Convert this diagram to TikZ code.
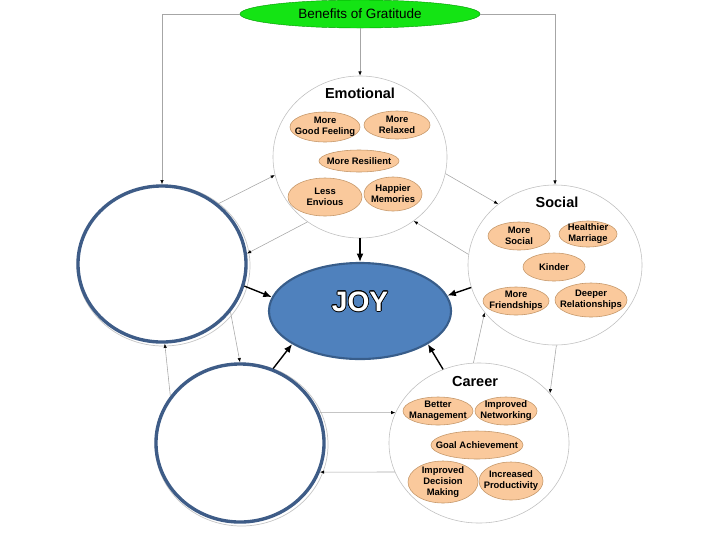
\documentclass[tikz,border=0pt]{standalone}
\usepackage{fontspec}
\setmainfont{Liberation Sans}
\usepackage{xcolor}
\usepackage{tikz}
\usepackage[copies]{contour}
\usetikzlibrary{shapes.geometric}
\usetikzlibrary{arrows.meta,calc}

\definecolor{gratgreen}{RGB}{20,228,20}
\definecolor{peach}{RGB}{250,201,156}
\definecolor{peachedge}{RGB}{196,150,104}
\definecolor{joyblue}{RGB}{79,129,189}
\definecolor{joyedge}{RGB}{56,93,138}
\definecolor{ringblue}{RGB}{62,92,135}
\contourlength{0.5pt}

\tikzset{
  area/.style 2 args={ellipse, draw=gray!50, line width=0.4pt, fill=white, inner sep=0pt,
    minimum width=#1*0.05cm, minimum height=#2*0.05cm},
  blank/.style 2 args={ellipse, draw=ringblue, line width=2.4pt, fill=white, inner sep=0pt,
    minimum width=#1*0.05cm, minimum height=#2*0.05cm},
  bub/.style 2 args={ellipse, draw=peachedge, line width=0.4pt, fill=peach, inner sep=0pt,
    minimum width=#1*0.05cm, minimum height=#2*0.05cm},
  lbl/.style={align=center, font=\bfseries\fontsize{6.7}{7.8}\selectfont, inner sep=0pt},
  areatitle/.style={font=\bfseries\fontsize{10.3}{12}\selectfont, inner sep=0pt},
  link/.style={draw=gray!70, line width=0.4pt, -{Latex[length=3pt,width=2.4pt,black]}},
  feed/.style={draw=black, line width=1pt, -{Latex[length=6pt,width=5pt]}},
}

\begin{document}
\begin{tikzpicture}[x=0.025cm, y=-0.025cm]
\useasboundingbox (0,0) rectangle (720,540);

\node[ellipse, draw=green!60!black, line width=0.3pt, fill=gratgreen, inner sep=0pt,
  minimum width=6cm, minimum height=0.7cm, font=\fontsize{9.6}{11}\selectfont] (ben) at (360,14) {Benefits of Gratitude};

\draw[gray!45, line width=0.5pt] (163.5,265.5) ellipse [x radius=86.5, y radius=80.5];
\draw[gray!45, line width=0.5pt] (241.5,444.5) ellipse [x radius=86.5, y radius=81.5];
\node[blank={84}{78}] (upp) at (162,264) {};
\node[blank={84}{79}] (low) at (240,443) {};

\node[area={87}{81}] (emo) at (360,157) {};
\node[areatitle] (emot) at (360,93) {Emotional};
\node[bub={35}{15}, label={[lbl]center:{More\\Good Feeling}}] (goodfeel) at (325,127) {};
\node[bub={33}{14}, label={[lbl]center:{More\\Relaxed}}] (relaxed) at (397,125) {};
\node[bub={40}{11}, label={[lbl]center:{More Resilient}}] (resilient) at (359,161) {};
\node[bub={37}{19}, label={[lbl]center:{Less\\Envious}}] (envious) at (325,197) {};
\node[bub={29}{17}, label={[lbl]center:{Happier\\Memories}}] (memories) at (393,194) {};

\node[area={87}{80}] (soc) at (555,265) {};
\node[areatitle] (soct) at (557,202) {Social};
\node[bub={31}{14}, label={[lbl]center:{More\\Social}}] (social) at (519,236) {};
\node[bub={29}{13}, label={[lbl]center:{Healthier\\Marriage}}] (marriage) at (588,234) {};
\node[bub={31}{14}, label={[lbl]center:{Kinder}}] (kinder) at (554,267) {};
\node[bub={33}{14}, label={[lbl]center:{More\\Friendships}}] (friends) at (516,301) {};
\node[bub={36}{17}, label={[lbl]center:{Deeper\\Relationships}}] (deeper) at (591,300) {};

\node[area={90}{80}] (car) at (479,443) {};
\node[areatitle] (cart) at (475,382) {Career};
\node[bub={35}{14}, label={[lbl]center:{Better\\Management}}] (manage) at (438,411) {};
\node[bub={31}{14}, label={[lbl]center:{Improved\\Networking}}] (network) at (506,411) {};
\node[bub={46}{14}, label={[lbl]center:{Goal Achievement}}] (goal) at (477,445) {};
\node[bub={35}{21}, label={[lbl]center:{Improved\\Decision\\Making}}] (decision) at (443,482) {};
\node[bub={32}{19}, label={[lbl]center:{Increased\\Productivity}}] (product) at (511,481) {};

\node[ellipse, draw=joyedge, line width=1.5pt, fill=joyblue, inner sep=0pt,
  minimum width=4.55cm, minimum height=2.4cm] (joy) at (360,311) {};
\node[font=\bfseries\fontsize{20}{24}\selectfont, inner sep=0pt] (joyt) at (360,302) {\contour{black}{\textcolor{white}{JOY}}};

\draw[link] (ben.west) -| (upp.north);
\draw[link] (ben.east) -| (soc.north);
\draw[link] (ben.south) -- (emo.north);

\draw[link] (upp.47) -- (emo.192);
\draw[link] (emo.231) -- (upp.7);
\draw[link] (emo.349) -- (soc.133);
\draw[link] (soc.173) -- (emo.310);
\draw[link] (car.94) -- (soc.214);
\draw[link] (soc.271) -- (car.35);
\draw[link] (low.21) -- (car.160);
\draw[link] (car.199) -- (low.340);
\draw[link] (upp.325) -- (low.north);
\draw[link] (low.146) -- (upp.272);

\draw[feed] (emo.south) -- (joy.north);
\draw[feed] (soc.195) -- (joy.10);
\draw[feed] (upp.345) -- (joy.171);
\draw[feed] (low.66) -- (joy.206);
\draw[feed] (car.116) -- (joy.334);
\end{tikzpicture}
\end{document}
